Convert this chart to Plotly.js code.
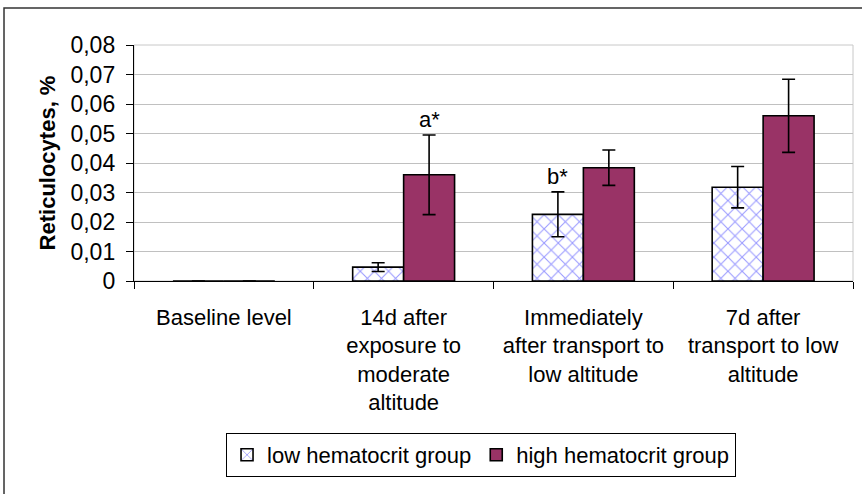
<!DOCTYPE html>
<html>
<head>
<meta charset="utf-8">
<script src="https://cdn.plot.ly/plotly-3.0.1.min.js"></script>
<style>html,body{margin:0;padding:0;background:#fff;}#chart{width:862px;height:494px;}</style>
</head>
<body>
<div id="chart"></div>
<script>
var categories = [
  "Baseline level",
  "14d after<br>exposure to<br>moderate<br>altitude",
  "Immediately<br>after transport to<br>low altitude",
  "7d after<br>transport to low<br>altitude"
];
var lowValues = [0, 0.0047, 0.0226, 0.0318];
var lowErrors = [0, 0.0015, 0.0076, 0.0070];
var highValues = [0, 0.0360, 0.0384, 0.0560];
var highErrors = [0, 0.0135, 0.0060, 0.0124];
var seriesNames = ["low hematocrit group", "high hematocrit group"];
var yTickVals = [0, 0.01, 0.02, 0.03, 0.04, 0.05, 0.06, 0.07, 0.08];
var yTickText = ["0", "0,01", "0,02", "0,03", "0,04", "0,05", "0,06", "0,07", "0,08"];
var marks = [
  {series: "high", index: 1, text: "a*"},
  {series: "low", index: 2, text: "b*"}
];

var FONT = "Liberation Sans, Arial, sans-serif";
var barOffset = 0.1417;

var traces = [
  {
    type: "bar", name: seriesNames[0], x: categories, y: lowValues,
    error_y: {type: "data", array: lowErrors, visible: true, color: "#000", thickness: 1.6, width: 6.5},
    marker: {color: "#ffffff", line: {color: "#000", width: 1.6},
      pattern: {shape: "x", fgcolor: "#9a9aff", bgcolor: "#ffffff", size: 10, solidity: 0.2}}
  },
  {
    type: "bar", name: seriesNames[1], x: categories, y: highValues,
    error_y: {type: "data", array: highErrors, visible: true, color: "#000", thickness: 1.6, width: 6.5},
    marker: {color: "#993366", line: {color: "#000", width: 1.6}}
  }
];

var annotations = marks.map(function (m) {
  var vals = m.series === "low" ? lowValues : highValues;
  var errs = m.series === "low" ? lowErrors : highErrors;
  var off = m.series === "low" ? -barOffset : barOffset;
  return {
    x: m.index + off, y: vals[m.index] + errs[m.index], xref: "x", yref: "y",
    text: m.text, showarrow: false, yanchor: "bottom", yshift: 1,
    font: {family: FONT, size: 22, color: "#000"}
  };
});

var layout = {
  width: 862, height: 494,
  margin: {l: 134, r: 9, t: 45, b: 213},
  paper_bgcolor: "#ffffff", plot_bgcolor: "#ffffff",
  barmode: "group", bargap: 0.433, bargroupgap: 0,
  showlegend: true,
  legend: {
    orientation: "h", x: 0.128, y: -0.644, xanchor: "left", yanchor: "top",
    bordercolor: "#000", borderwidth: 1, bgcolor: "#fff",
    font: {family: FONT, size: 22, color: "#000"},
    itemwidth: 30, tracegroupgap: 0
  },
  xaxis: {
    type: "category", showline: true, linecolor: "#000", linewidth: 1.2,
    ticks: "outside", tickson: "boundaries", ticklen: 7, tickcolor: "#000",
    tickfont: {family: FONT, size: 22, color: "#000"}, tickangle: 0,
    ticklabelstandoff: 16,
    showgrid: false, zeroline: false, fixedrange: true
  },
  yaxis: {
    range: [0, 0.08], tickvals: yTickVals, ticktext: yTickText,
    showline: true, linecolor: "#000", linewidth: 1.2,
    ticks: "outside", ticklen: 7, tickcolor: "#000",
    tickfont: {family: FONT, size: 23, color: "#000"},
    ticklabelstandoff: 6,
    showgrid: true, gridcolor: "#c0c0c0", gridwidth: 1, zeroline: false,
    title: {text: "<b>Reticulocytes, %</b>", font: {family: FONT, size: 22, color: "#000"}, standoff: 8},
    fixedrange: true
  },
  annotations: annotations,
  shapes: [
    {type: "rect", xref: "paper", yref: "paper", x0: 0, x1: 1, y0: 0, y1: 1,
     line: {color: "#c8c8c8", width: 1}, layer: "below"},
    {type: "rect", xref: "paper", yref: "paper", x0: -0.1808, x1: 1.2, y0: -1.2, y1: 1.1568,
     line: {color: "#333", width: 1.5}, layer: "below"}
  ]
};

Plotly.newPlot("chart", traces, layout, {displayModeBar: false, staticPlot: true});
</script>
</body>
</html>
